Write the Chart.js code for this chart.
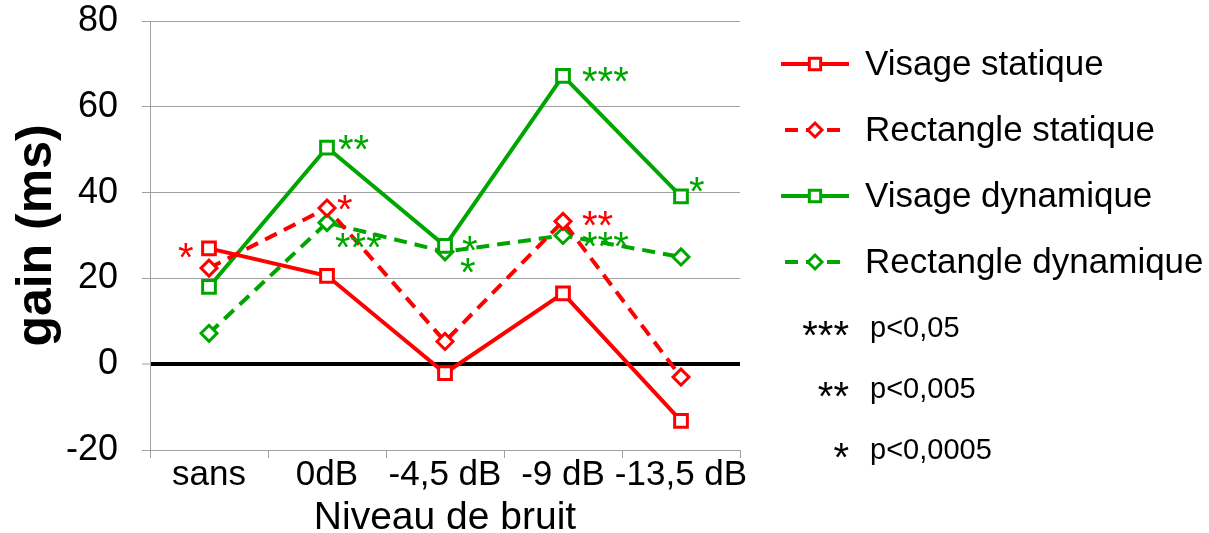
<!DOCTYPE html>
<html>
<head>
<meta charset="utf-8">
<script src="https://cdn.jsdelivr.net/npm/chart.js@4/dist/chart.umd.min.js"></script>
<style>
  html, body { margin: 0; padding: 0; background: #fff; }
  canvas { display: block; }
</style>
</head>
<body>
<canvas id="gainChart" width="1209" height="533"></canvas>
<script>
// data
const categories = ['sans', '0dB', '-4,5 dB', '-9 dB', '-13,5 dB'];
const visageStatique = [27.0, 20.6, -2.1, 16.5, -13.2];
const rectangleStatique = [22.4, 36.4, 5.3, 33.3, -3.0];
const visageDynamique = [18.0, 50.5, 27.6, 67.2, 39.1];
const rectangleDynamique = [7.2, 33.0, 26.2, 30.0, 25.0];

// significance marks per point
const sigVisageStatique = ['*', '', '', '', ''];
const sigRectangleStatique = ['', '*', '', '**', ''];
const sigVisageDynamique = ['', '**', '*', '***', '*'];
const sigRectangleDynamique = ['', '***', '*', '***', ''];

const sigKeys = ['***', '**', '*'];
const sigTexts = ['p<0,05', 'p<0,005', 'p<0,0005'];

const yMin = -20, yMax = 80, yStep = 20;

const RED = '#ff0000';
const GREEN = '#00a600';
const GRID = '#a0a0a0';
const FONT = '"Liberation Sans", Arial, sans-serif';

// where each star label sits relative to its point (dx = left edge, dy = glyph centre)
const starOffsets = [
  [[-31, 0], null, null, null, null],
  [null, [10, -8], null, [19, -5], null],
  [null, [11, -8], [17, -5], [19, -4], [8, -14]],
  [null, [8, 15], [15, 11], [19, 1], null]
];

function series(label, data, color, dashed, shape, sig) {
  return {
    label: label,
    data: data,
    sig: sig,
    borderColor: color,
    backgroundColor: '#fff',
    borderWidth: 4,
    borderDash: dashed ? [13, 8] : [],
    pointStyle: shape,
    pointRadius: shape === 'rect' ? 9 : 8,
    pointBorderWidth: 3,
    pointBackgroundColor: '#fff',
    pointBorderColor: color,
    tension: 0,
    fill: false
  };
}

const stars = {
  id: 'stars',
  afterDatasetsDraw(chart) {
    const ctx = chart.ctx;
    ctx.save();
    ctx.font = '40px ' + FONT;
    ctx.textAlign = 'left';
    ctx.textBaseline = 'alphabetic';
    chart.data.datasets.forEach((ds, d) => {
      const meta = chart.getDatasetMeta(d);
      ds.sig.forEach((s, i) => {
        if (!s) return;
        const off = starOffsets[d][i] || [12, 0];
        const pt = meta.data[i];
        ctx.fillStyle = ds.borderColor;
        ctx.fillText(s, pt.x + off[0], pt.y + off[1] + 23);
      });
    });
    ctx.restore();
  }
};

const sideLegend = {
  id: 'sideLegend',
  afterDraw(chart) {
    const ctx = chart.ctx;
    const x0 = 781, x1 = 849, tx = 865;
    const rows = [64, 130, 196, 262];
    ctx.save();
    chart.data.datasets.forEach((ds, d) => {
      const y = rows[d];
      ctx.strokeStyle = ds.borderColor;
      ctx.lineWidth = ds.borderWidth;
      ctx.setLineDash(ds.borderDash);
      ctx.beginPath();
      if (ds.borderDash.length) {
        ctx.moveTo(x0 + 4, y); ctx.lineTo(x1 - 4, y);
      } else {
        ctx.moveTo(x0, y); ctx.lineTo(x1, y);
      }
      ctx.stroke();
      ctx.setLineDash([]);
      ctx.fillStyle = '#fff';
      ctx.strokeStyle = ds.borderColor;
      ctx.lineWidth = ds.pointBorderWidth;
      Chart.helpers.drawPoint(ctx, {
        pointStyle: ds.pointStyle,
        radius: ds.pointRadius - 1,
        borderWidth: ds.pointBorderWidth,
        rotation: 0
      }, (x0 + x1) / 2, y);
      ctx.fillStyle = '#000';
      ctx.font = '35px ' + FONT;
      ctx.textAlign = 'left';
      ctx.textBaseline = 'middle';
      ctx.fillText(ds.label, tx, y + 1);
    });
    const prow = [328, 389, 450];
    sigKeys.forEach((k, i) => {
      ctx.fillStyle = '#000';
      ctx.font = '40px ' + FONT;
      ctx.textAlign = 'right';
      ctx.textBaseline = 'alphabetic';
      ctx.fillText(k, 849, prow[i] + 21);
      ctx.font = '29px ' + FONT;
      ctx.textAlign = 'left';
      ctx.textBaseline = 'middle';
      ctx.fillText(sigTexts[i], 870, prow[i] + 1);
    });
    ctx.restore();
  }
};

new Chart(document.getElementById('gainChart').getContext('2d'), {
  type: 'line',
  data: {
    labels: categories,
    datasets: [
      series('Visage statique', visageStatique, RED, false, 'rect', sigVisageStatique),
      series('Rectangle statique', rectangleStatique, RED, true, 'rectRot', sigRectangleStatique),
      series('Visage dynamique', visageDynamique, GREEN, false, 'rect', sigVisageDynamique),
      series('Rectangle dynamique', rectangleDynamique, GREEN, true, 'rectRot', sigRectangleDynamique)
    ]
  },
  options: {
    responsive: false,
    animation: false,
    layout: { padding: { top: 21, right: 469, left: 0, bottom: 0 } },
    plugins: {
      legend: { display: false },
      tooltip: { enabled: false }
    },
    scales: {
      x: {
        offset: true,
        afterFit: (s) => { s.height = 83; },
        grid: {
          offset: true,
          drawOnChartArea: true,
          color: (c) => (c.index === categories.length ? GRID : 'rgba(0,0,0,0)'),
          tickColor: GRID,
          tickLength: 8,
          tickWidth: 1
        },
        border: { color: GRID, width: 1 },
        ticks: {
          color: '#000',
          font: { family: FONT, size: 35, lineHeight: 1 },
          padding: 0,
          maxRotation: 0,
          minRotation: 0,
          autoSkip: false
        },
        title: {
          display: true,
          text: 'Niveau de bruit',
          color: '#000',
          font: { family: FONT, size: 39, lineHeight: 1 },
          padding: { top: 6, bottom: -5 }
        }
      },
      y: {
        min: yMin,
        max: yMax,
        afterFit: (s) => { s.width = 150; s.paddingTop = 0; s.paddingBottom = 0; },
        grid: {
          color: (c) => (c.tick && c.tick.value === 0 ? '#000' : GRID),
          lineWidth: (c) => (c.tick && c.tick.value === 0 ? 4 : 1),
          tickColor: GRID,
          tickLength: 8,
          tickWidth: 1
        },
        border: { color: GRID, width: 1 },
        ticks: {
          stepSize: yStep,
          color: '#000',
          font: { family: FONT, size: 36, lineHeight: 1 },
          padding: 24
        },
        title: {
          display: true,
          text: 'gain (ms)',
          color: '#000',
          font: { family: FONT, size: 50, weight: 'bold', lineHeight: 1 },
          padding: { top: 12, bottom: 7 }
        }
      }
    }
  },
  plugins: [stars, sideLegend]
});
</script>
</body>
</html>
